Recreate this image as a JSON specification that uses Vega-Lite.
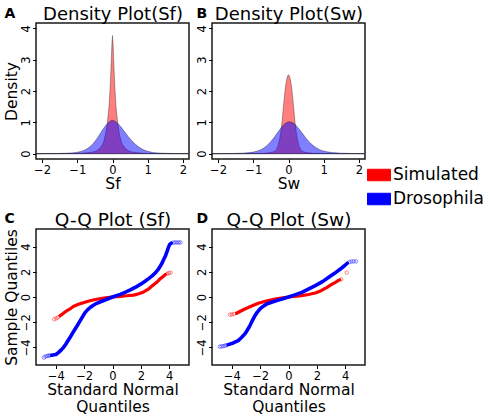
{
  "$schema": "https://vega.github.io/schema/vega-lite/v6.json",
  "autosize": {"type": "pad"},
  "padding": {"left": 3, "top": 4, "right": 0, "bottom": 0},
  "background": "white",
  "datasets": {
    "dens": [
      {"p":"A","s":"Simulated","x":-2.15,"y":0},
      {"p":"A","s":"Simulated","x":-1.5,"y":0.002},
      {"p":"A","s":"Simulated","x":-1.0,"y":0.008},
      {"p":"A","s":"Simulated","x":-0.8,"y":0.02},
      {"p":"A","s":"Simulated","x":-0.6,"y":0.045},
      {"p":"A","s":"Simulated","x":-0.5,"y":0.07},
      {"p":"A","s":"Simulated","x":-0.4,"y":0.13},
      {"p":"A","s":"Simulated","x":-0.3,"y":0.26},
      {"p":"A","s":"Simulated","x":-0.25,"y":0.38},
      {"p":"A","s":"Simulated","x":-0.2,"y":0.6},
      {"p":"A","s":"Simulated","x":-0.15,"y":0.95},
      {"p":"A","s":"Simulated","x":-0.1,"y":1.5},
      {"p":"A","s":"Simulated","x":-0.07,"y":2.05},
      {"p":"A","s":"Simulated","x":-0.05,"y":2.55},
      {"p":"A","s":"Simulated","x":-0.03,"y":3.1},
      {"p":"A","s":"Simulated","x":-0.015,"y":3.55},
      {"p":"A","s":"Simulated","x":0,"y":3.77},
      {"p":"A","s":"Simulated","x":0.015,"y":3.55},
      {"p":"A","s":"Simulated","x":0.03,"y":3.1},
      {"p":"A","s":"Simulated","x":0.05,"y":2.55},
      {"p":"A","s":"Simulated","x":0.07,"y":2.05},
      {"p":"A","s":"Simulated","x":0.1,"y":1.5},
      {"p":"A","s":"Simulated","x":0.15,"y":0.95},
      {"p":"A","s":"Simulated","x":0.2,"y":0.6},
      {"p":"A","s":"Simulated","x":0.25,"y":0.38},
      {"p":"A","s":"Simulated","x":0.3,"y":0.26},
      {"p":"A","s":"Simulated","x":0.4,"y":0.13},
      {"p":"A","s":"Simulated","x":0.5,"y":0.07},
      {"p":"A","s":"Simulated","x":0.6,"y":0.045},
      {"p":"A","s":"Simulated","x":0.8,"y":0.02},
      {"p":"A","s":"Simulated","x":1.0,"y":0.008},
      {"p":"A","s":"Simulated","x":1.5,"y":0.002},
      {"p":"A","s":"Simulated","x":2.15,"y":0},
      {"p":"A","s":"Drosophila","x":-2.15,"y":0.002},
      {"p":"A","s":"Drosophila","x":-1.8,"y":0.004},
      {"p":"A","s":"Drosophila","x":-1.5,"y":0.008},
      {"p":"A","s":"Drosophila","x":-1.3,"y":0.015},
      {"p":"A","s":"Drosophila","x":-1.1,"y":0.03},
      {"p":"A","s":"Drosophila","x":-1.0,"y":0.045},
      {"p":"A","s":"Drosophila","x":-0.9,"y":0.07},
      {"p":"A","s":"Drosophila","x":-0.8,"y":0.11},
      {"p":"A","s":"Drosophila","x":-0.7,"y":0.17},
      {"p":"A","s":"Drosophila","x":-0.6,"y":0.26},
      {"p":"A","s":"Drosophila","x":-0.5,"y":0.39},
      {"p":"A","s":"Drosophila","x":-0.4,"y":0.55},
      {"p":"A","s":"Drosophila","x":-0.3,"y":0.73},
      {"p":"A","s":"Drosophila","x":-0.2,"y":0.89},
      {"p":"A","s":"Drosophila","x":-0.1,"y":1.01},
      {"p":"A","s":"Drosophila","x":-0.03,"y":1.07},
      {"p":"A","s":"Drosophila","x":0.05,"y":1.05},
      {"p":"A","s":"Drosophila","x":0.15,"y":0.97},
      {"p":"A","s":"Drosophila","x":0.25,"y":0.84},
      {"p":"A","s":"Drosophila","x":0.35,"y":0.69},
      {"p":"A","s":"Drosophila","x":0.45,"y":0.54},
      {"p":"A","s":"Drosophila","x":0.55,"y":0.41},
      {"p":"A","s":"Drosophila","x":0.65,"y":0.3},
      {"p":"A","s":"Drosophila","x":0.75,"y":0.21},
      {"p":"A","s":"Drosophila","x":0.85,"y":0.14},
      {"p":"A","s":"Drosophila","x":0.95,"y":0.09},
      {"p":"A","s":"Drosophila","x":1.05,"y":0.06},
      {"p":"A","s":"Drosophila","x":1.2,"y":0.03},
      {"p":"A","s":"Drosophila","x":1.4,"y":0.015},
      {"p":"A","s":"Drosophila","x":1.7,"y":0.006},
      {"p":"A","s":"Drosophila","x":2.15,"y":0.002},
      {"p":"B","s":"Simulated","x":-2.15,"y":0},
      {"p":"B","s":"Simulated","x":-1.5,"y":0.001},
      {"p":"B","s":"Simulated","x":-1.0,"y":0.004},
      {"p":"B","s":"Simulated","x":-0.7,"y":0.012},
      {"p":"B","s":"Simulated","x":-0.5,"y":0.035},
      {"p":"B","s":"Simulated","x":-0.4,"y":0.07},
      {"p":"B","s":"Simulated","x":-0.35,"y":0.12},
      {"p":"B","s":"Simulated","x":-0.3,"y":0.24},
      {"p":"B","s":"Simulated","x":-0.25,"y":0.47},
      {"p":"B","s":"Simulated","x":-0.21,"y":0.75},
      {"p":"B","s":"Simulated","x":-0.18,"y":1.05},
      {"p":"B","s":"Simulated","x":-0.15,"y":1.43},
      {"p":"B","s":"Simulated","x":-0.12,"y":1.78},
      {"p":"B","s":"Simulated","x":-0.09,"y":2.1},
      {"p":"B","s":"Simulated","x":-0.06,"y":2.33},
      {"p":"B","s":"Simulated","x":-0.03,"y":2.47},
      {"p":"B","s":"Simulated","x":0,"y":2.52},
      {"p":"B","s":"Simulated","x":0.03,"y":2.47},
      {"p":"B","s":"Simulated","x":0.06,"y":2.33},
      {"p":"B","s":"Simulated","x":0.09,"y":2.1},
      {"p":"B","s":"Simulated","x":0.12,"y":1.78},
      {"p":"B","s":"Simulated","x":0.15,"y":1.43},
      {"p":"B","s":"Simulated","x":0.18,"y":1.05},
      {"p":"B","s":"Simulated","x":0.21,"y":0.75},
      {"p":"B","s":"Simulated","x":0.25,"y":0.47},
      {"p":"B","s":"Simulated","x":0.3,"y":0.24},
      {"p":"B","s":"Simulated","x":0.35,"y":0.12},
      {"p":"B","s":"Simulated","x":0.4,"y":0.07},
      {"p":"B","s":"Simulated","x":0.5,"y":0.035},
      {"p":"B","s":"Simulated","x":0.7,"y":0.012},
      {"p":"B","s":"Simulated","x":1.0,"y":0.004},
      {"p":"B","s":"Simulated","x":1.5,"y":0.001},
      {"p":"B","s":"Simulated","x":2.15,"y":0},
      {"p":"B","s":"Drosophila","x":-2.15,"y":0.002},
      {"p":"B","s":"Drosophila","x":-1.8,"y":0.004},
      {"p":"B","s":"Drosophila","x":-1.5,"y":0.009},
      {"p":"B","s":"Drosophila","x":-1.3,"y":0.017},
      {"p":"B","s":"Drosophila","x":-1.1,"y":0.035},
      {"p":"B","s":"Drosophila","x":-1.0,"y":0.05},
      {"p":"B","s":"Drosophila","x":-0.9,"y":0.08},
      {"p":"B","s":"Drosophila","x":-0.8,"y":0.12},
      {"p":"B","s":"Drosophila","x":-0.7,"y":0.18},
      {"p":"B","s":"Drosophila","x":-0.6,"y":0.27},
      {"p":"B","s":"Drosophila","x":-0.5,"y":0.39},
      {"p":"B","s":"Drosophila","x":-0.4,"y":0.53},
      {"p":"B","s":"Drosophila","x":-0.3,"y":0.69},
      {"p":"B","s":"Drosophila","x":-0.2,"y":0.84},
      {"p":"B","s":"Drosophila","x":-0.1,"y":0.96},
      {"p":"B","s":"Drosophila","x":0,"y":1.02},
      {"p":"B","s":"Drosophila","x":0.1,"y":1.0},
      {"p":"B","s":"Drosophila","x":0.2,"y":0.92},
      {"p":"B","s":"Drosophila","x":0.3,"y":0.79},
      {"p":"B","s":"Drosophila","x":0.4,"y":0.64},
      {"p":"B","s":"Drosophila","x":0.5,"y":0.49},
      {"p":"B","s":"Drosophila","x":0.6,"y":0.36},
      {"p":"B","s":"Drosophila","x":0.7,"y":0.26},
      {"p":"B","s":"Drosophila","x":0.8,"y":0.18},
      {"p":"B","s":"Drosophila","x":0.9,"y":0.12},
      {"p":"B","s":"Drosophila","x":1.0,"y":0.085},
      {"p":"B","s":"Drosophila","x":1.1,"y":0.058},
      {"p":"B","s":"Drosophila","x":1.25,"y":0.034},
      {"p":"B","s":"Drosophila","x":1.5,"y":0.015},
      {"p":"B","s":"Drosophila","x":1.8,"y":0.006},
      {"p":"B","s":"Drosophila","x":2.15,"y":0.002}
    ],
    "qq": [
      {"p":"C","s":"Simulated","k":"l","x":-3.71,"y":-1.5},
      {"p":"C","s":"Simulated","k":"l","x":-3.35,"y":-1.19},
      {"p":"C","s":"Simulated","k":"l","x":-3.0,"y":-0.95},
      {"p":"C","s":"Simulated","k":"l","x":-2.77,"y":-0.76},
      {"p":"C","s":"Simulated","k":"l","x":-2.4,"y":-0.58},
      {"p":"C","s":"Simulated","k":"l","x":-2.06,"y":-0.45},
      {"p":"C","s":"Simulated","k":"l","x":-1.6,"y":-0.3},
      {"p":"C","s":"Simulated","k":"l","x":-1.11,"y":-0.18},
      {"p":"C","s":"Simulated","k":"l","x":-0.5,"y":-0.07},
      {"p":"C","s":"Simulated","k":"l","x":0,"y":0},
      {"p":"C","s":"Simulated","k":"l","x":0.55,"y":0.05},
      {"p":"C","s":"Simulated","k":"l","x":1.0,"y":0.1},
      {"p":"C","s":"Simulated","k":"l","x":1.49,"y":0.15},
      {"p":"C","s":"Simulated","k":"l","x":1.85,"y":0.26},
      {"p":"C","s":"Simulated","k":"l","x":2.2,"y":0.4},
      {"p":"C","s":"Simulated","k":"l","x":2.5,"y":0.6},
      {"p":"C","s":"Simulated","k":"l","x":2.79,"y":0.87},
      {"p":"C","s":"Simulated","k":"l","x":3.1,"y":1.15},
      {"p":"C","s":"Simulated","k":"l","x":3.38,"y":1.46},
      {"p":"C","s":"Simulated","k":"l","x":3.6,"y":1.65},
      {"p":"C","s":"Simulated","k":"l","x":3.74,"y":1.8},
      {"p":"C","s":"Simulated","k":"p","x":-4.11,"y":-1.77},
      {"p":"C","s":"Simulated","k":"p","x":-3.97,"y":-1.7},
      {"p":"C","s":"Simulated","k":"p","x":-3.85,"y":-1.62},
      {"p":"C","s":"Simulated","k":"p","x":3.86,"y":1.85},
      {"p":"C","s":"Simulated","k":"p","x":3.98,"y":1.9},
      {"p":"C","s":"Simulated","k":"p","x":4.09,"y":1.93},
      {"p":"C","s":"Drosophila","k":"l","x":-4.3,"y":-4.62},
      {"p":"C","s":"Drosophila","k":"l","x":-4.0,"y":-4.57},
      {"p":"C","s":"Drosophila","k":"l","x":-3.8,"y":-4.4},
      {"p":"C","s":"Drosophila","k":"l","x":-3.6,"y":-4.18},
      {"p":"C","s":"Drosophila","k":"l","x":-3.47,"y":-4.02},
      {"p":"C","s":"Drosophila","k":"l","x":-3.3,"y":-3.75},
      {"p":"C","s":"Drosophila","k":"l","x":-3.15,"y":-3.48},
      {"p":"C","s":"Drosophila","k":"l","x":-3.0,"y":-3.22},
      {"p":"C","s":"Drosophila","k":"l","x":-2.85,"y":-2.93},
      {"p":"C","s":"Drosophila","k":"l","x":-2.65,"y":-2.56},
      {"p":"C","s":"Drosophila","k":"l","x":-2.45,"y":-2.2},
      {"p":"C","s":"Drosophila","k":"l","x":-2.29,"y":-1.9},
      {"p":"C","s":"Drosophila","k":"l","x":-2.1,"y":-1.54},
      {"p":"C","s":"Drosophila","k":"l","x":-1.94,"y":-1.24},
      {"p":"C","s":"Drosophila","k":"l","x":-1.75,"y":-1.0},
      {"p":"C","s":"Drosophila","k":"l","x":-1.58,"y":-0.84},
      {"p":"C","s":"Drosophila","k":"l","x":-1.35,"y":-0.66},
      {"p":"C","s":"Drosophila","k":"l","x":-1.11,"y":-0.5},
      {"p":"C","s":"Drosophila","k":"l","x":-0.8,"y":-0.36},
      {"p":"C","s":"Drosophila","k":"l","x":-0.4,"y":-0.18},
      {"p":"C","s":"Drosophila","k":"l","x":0,"y":0},
      {"p":"C","s":"Drosophila","k":"l","x":0.55,"y":0.21},
      {"p":"C","s":"Drosophila","k":"l","x":1.0,"y":0.42},
      {"p":"C","s":"Drosophila","k":"l","x":1.26,"y":0.56},
      {"p":"C","s":"Drosophila","k":"l","x":1.6,"y":0.76},
      {"p":"C","s":"Drosophila","k":"l","x":1.96,"y":1.0},
      {"p":"C","s":"Drosophila","k":"l","x":2.3,"y":1.25},
      {"p":"C","s":"Drosophila","k":"l","x":2.55,"y":1.46},
      {"p":"C","s":"Drosophila","k":"l","x":2.8,"y":1.68},
      {"p":"C","s":"Drosophila","k":"l","x":3.03,"y":1.93},
      {"p":"C","s":"Drosophila","k":"l","x":3.2,"y":2.15},
      {"p":"C","s":"Drosophila","k":"l","x":3.38,"y":2.46},
      {"p":"C","s":"Drosophila","k":"l","x":3.5,"y":2.7},
      {"p":"C","s":"Drosophila","k":"l","x":3.62,"y":2.99},
      {"p":"C","s":"Drosophila","k":"l","x":3.75,"y":3.3},
      {"p":"C","s":"Drosophila","k":"l","x":3.86,"y":3.65},
      {"p":"C","s":"Drosophila","k":"l","x":3.95,"y":3.95},
      {"p":"C","s":"Drosophila","k":"l","x":4.04,"y":4.18},
      {"p":"C","s":"Drosophila","k":"l","x":4.15,"y":4.28},
      {"p":"C","s":"Drosophila","k":"p","x":-4.84,"y":-4.81},
      {"p":"C","s":"Drosophila","k":"p","x":-4.72,"y":-4.72},
      {"p":"C","s":"Drosophila","k":"p","x":-4.6,"y":-4.68},
      {"p":"C","s":"Drosophila","k":"p","x":-4.5,"y":-4.66},
      {"p":"C","s":"Drosophila","k":"p","x":-4.4,"y":-4.64},
      {"p":"C","s":"Drosophila","k":"p","x":4.3,"y":4.32},
      {"p":"C","s":"Drosophila","k":"p","x":4.42,"y":4.33},
      {"p":"C","s":"Drosophila","k":"p","x":4.55,"y":4.33},
      {"p":"C","s":"Drosophila","k":"p","x":4.68,"y":4.33},
      {"p":"C","s":"Drosophila","k":"p","x":4.8,"y":4.33},
      {"p":"D","s":"Simulated","k":"l","x":-3.67,"y":-1.29},
      {"p":"D","s":"Simulated","k":"l","x":-3.4,"y":-1.13},
      {"p":"D","s":"Simulated","k":"l","x":-3.08,"y":-0.95},
      {"p":"D","s":"Simulated","k":"l","x":-2.6,"y":-0.72},
      {"p":"D","s":"Simulated","k":"l","x":-2.13,"y":-0.5},
      {"p":"D","s":"Simulated","k":"l","x":-1.5,"y":-0.3},
      {"p":"D","s":"Simulated","k":"l","x":-0.95,"y":-0.16},
      {"p":"D","s":"Simulated","k":"l","x":-0.4,"y":-0.06},
      {"p":"D","s":"Simulated","k":"l","x":0,"y":0},
      {"p":"D","s":"Simulated","k":"l","x":0.94,"y":0.11},
      {"p":"D","s":"Simulated","k":"l","x":1.4,"y":0.2},
      {"p":"D","s":"Simulated","k":"l","x":1.89,"y":0.32},
      {"p":"D","s":"Simulated","k":"l","x":2.3,"y":0.5},
      {"p":"D","s":"Simulated","k":"l","x":2.72,"y":0.77},
      {"p":"D","s":"Simulated","k":"l","x":3.05,"y":1.0},
      {"p":"D","s":"Simulated","k":"l","x":3.31,"y":1.17},
      {"p":"D","s":"Simulated","k":"l","x":3.5,"y":1.3},
      {"p":"D","s":"Simulated","k":"l","x":3.62,"y":1.36},
      {"p":"D","s":"Simulated","k":"p","x":-4.14,"y":-1.4},
      {"p":"D","s":"Simulated","k":"p","x":-4.0,"y":-1.38},
      {"p":"D","s":"Simulated","k":"p","x":-3.85,"y":-1.34},
      {"p":"D","s":"Simulated","k":"p","x":3.72,"y":1.4},
      {"p":"D","s":"Simulated","k":"p","x":4.11,"y":1.94},
      {"p":"D","s":"Drosophila","k":"l","x":-4.26,"y":-3.78},
      {"p":"D","s":"Drosophila","k":"l","x":-3.9,"y":-3.65},
      {"p":"D","s":"Drosophila","k":"l","x":-3.55,"y":-3.46},
      {"p":"D","s":"Drosophila","k":"l","x":-3.3,"y":-3.2},
      {"p":"D","s":"Drosophila","k":"l","x":-3.08,"y":-2.93},
      {"p":"D","s":"Drosophila","k":"l","x":-2.9,"y":-2.62},
      {"p":"D","s":"Drosophila","k":"l","x":-2.72,"y":-2.27},
      {"p":"D","s":"Drosophila","k":"l","x":-2.55,"y":-1.87},
      {"p":"D","s":"Drosophila","k":"l","x":-2.37,"y":-1.48},
      {"p":"D","s":"Drosophila","k":"l","x":-2.2,"y":-1.2},
      {"p":"D","s":"Drosophila","k":"l","x":-2.01,"y":-0.95},
      {"p":"D","s":"Drosophila","k":"l","x":-1.8,"y":-0.75},
      {"p":"D","s":"Drosophila","k":"l","x":-1.54,"y":-0.55},
      {"p":"D","s":"Drosophila","k":"l","x":-1.2,"y":-0.42},
      {"p":"D","s":"Drosophila","k":"l","x":-0.83,"y":-0.29},
      {"p":"D","s":"Drosophila","k":"l","x":-0.4,"y":-0.14},
      {"p":"D","s":"Drosophila","k":"l","x":0,"y":0},
      {"p":"D","s":"Drosophila","k":"l","x":0.5,"y":0.19},
      {"p":"D","s":"Drosophila","k":"l","x":0.94,"y":0.37},
      {"p":"D","s":"Drosophila","k":"l","x":1.4,"y":0.62},
      {"p":"D","s":"Drosophila","k":"l","x":1.89,"y":0.9},
      {"p":"D","s":"Drosophila","k":"l","x":2.4,"y":1.22},
      {"p":"D","s":"Drosophila","k":"l","x":2.84,"y":1.56},
      {"p":"D","s":"Drosophila","k":"l","x":3.25,"y":1.88},
      {"p":"D","s":"Drosophila","k":"l","x":3.66,"y":2.22},
      {"p":"D","s":"Drosophila","k":"l","x":3.95,"y":2.48},
      {"p":"D","s":"Drosophila","k":"l","x":4.15,"y":2.68},
      {"p":"D","s":"Drosophila","k":"p","x":-4.85,"y":-3.94},
      {"p":"D","s":"Drosophila","k":"p","x":-4.72,"y":-3.92},
      {"p":"D","s":"Drosophila","k":"p","x":-4.6,"y":-3.9},
      {"p":"D","s":"Drosophila","k":"p","x":-4.48,"y":-3.86},
      {"p":"D","s":"Drosophila","k":"p","x":-4.36,"y":-3.82},
      {"p":"D","s":"Drosophila","k":"p","x":4.3,"y":2.78},
      {"p":"D","s":"Drosophila","k":"p","x":4.45,"y":2.82},
      {"p":"D","s":"Drosophila","k":"p","x":4.6,"y":2.83},
      {"p":"D","s":"Drosophila","k":"p","x":4.77,"y":2.83}
    ]
  },
  "columns": 2,
  "bounds": "flush",
  "spacing": {"row": 70, "column": 23},
  "concat": [
    {
      "width": 153, "height": 136,
      "title": {"text": "A"},
      "data": {"name": "dens"},
      "transform": [{"filter": "datum.p === 'A'"}],
      "encoding": {
        "y": {"field": "y", "type": "quantitative", "scale": {"domain": [-0.17, 4.17], "nice": false, "zero": false}, "axis": {"values": [0, 1, 2, 3, 4], "title": "Density"}},
        "color": {"field": "s", "type": "nominal", "scale": {"domain": ["Simulated", "Drosophila"], "range": ["#FF0000", "#0000FF"]},
          "legend": {"orient": "none", "legendX": 331, "legendY": 140, "title": null, "symbolType": "M-1,-0.5H1V0.5H-1Z", "symbolSize": 529, "symbolStrokeColor": "#222222", "symbolStrokeWidth": 1, "symbolOpacity": 1, "labelFontSize": 17, "labelFont": "DejaVu Sans", "labelColor": "#000000", "labelOffset": 2, "rowPadding": 4, "padding": 0,
            "encode": {"symbols": {"update": {"fillOpacity": {"value": 1}, "strokeOpacity": {"value": 1}}}}}}
      },
      "layer": [
        {"transform": [{"filter": "datum.s === 'Simulated'"}],
         "mark": {"type": "area", "fillOpacity": 0.5, "stroke": "#000000", "strokeWidth": 0.6, "strokeOpacity": 0.55},
         "encoding": {"x": {"field": "x", "type": "quantitative", "scale": {"domain": [-2.17, 2.17], "nice": false, "zero": false}, "axis": {"values": [-2, -1, 0, 1, 2], "title": "Sf"}}}},
        {"transform": [{"filter": "datum.s === 'Drosophila'"}],
         "mark": {"type": "area", "fillOpacity": 0.5, "stroke": "#000000", "strokeWidth": 0.6, "strokeOpacity": 0.55},
         "encoding": {"x": {"field": "x", "type": "quantitative", "scale": {"domain": [-2.17, 2.17], "nice": false, "zero": false}, "axis": {"orient": "top", "title": "Density Plot(Sf)", "ticks": false, "labels": false, "domain": false, "titleFontSize": 18, "titlePadding": 0}}}}
      ],
      "resolve": {"axis": {"x": "independent"}}
    },
    {
      "width": 153, "height": 136,
      "title": {"text": "B"},
      "data": {"name": "dens"},
      "transform": [{"filter": "datum.p === 'B'"}],
      "encoding": {
        "y": {"field": "y", "type": "quantitative", "scale": {"domain": [-0.17, 4.17], "nice": false, "zero": false}, "axis": {"values": [0, 1, 2, 3, 4], "title": null}},
        "color": {"field": "s", "type": "nominal", "scale": {"domain": ["Simulated", "Drosophila"], "range": ["#FF0000", "#0000FF"]},
          "legend": {"orient": "none", "legendX": 331, "legendY": 140, "title": null, "symbolType": "M-1,-0.5H1V0.5H-1Z", "symbolSize": 529, "symbolStrokeColor": "#222222", "symbolStrokeWidth": 1, "symbolOpacity": 1, "labelFontSize": 17, "labelFont": "DejaVu Sans", "labelColor": "#000000", "labelOffset": 2, "rowPadding": 4, "padding": 0,
            "encode": {"symbols": {"update": {"fillOpacity": {"value": 1}, "strokeOpacity": {"value": 1}}}}}}
      },
      "layer": [
        {"transform": [{"filter": "datum.s === 'Simulated'"}],
         "mark": {"type": "area", "fillOpacity": 0.5, "stroke": "#000000", "strokeWidth": 0.6, "strokeOpacity": 0.55},
         "encoding": {"x": {"field": "x", "type": "quantitative", "scale": {"domain": [-2.17, 2.17], "nice": false, "zero": false}, "axis": {"values": [-2, -1, 0, 1, 2], "title": "Sw"}}}},
        {"transform": [{"filter": "datum.s === 'Drosophila'"}],
         "mark": {"type": "area", "fillOpacity": 0.5, "stroke": "#000000", "strokeWidth": 0.6, "strokeOpacity": 0.55},
         "encoding": {"x": {"field": "x", "type": "quantitative", "scale": {"domain": [-2.17, 2.17], "nice": false, "zero": false}, "axis": {"orient": "top", "title": "Density Plot(Sw)", "ticks": false, "labels": false, "domain": false, "titleFontSize": 18, "titlePadding": 0}}}}
      ],
      "resolve": {"axis": {"x": "independent"}}
    },
    {
      "width": 153, "height": 136,
      "title": {"text": "C"},
      "data": {"name": "qq"},
      "transform": [{"filter": "datum.p === 'C'"}],
      "encoding": {
        "y": {"field": "y", "type": "quantitative", "scale": {"domain": [-5.4, 5.4], "nice": false, "zero": false}, "axis": {"values": [-4, -2, 0, 2, 4], "title": "Sample Quantiles"}},
        "stroke": {"field": "s", "type": "nominal", "scale": {"domain": ["Simulated", "Drosophila"], "range": ["#FF0000", "#0000FF"]}, "legend": null}
      },
      "layer": [
        {"transform": [{"filter": "datum.s === 'Simulated' && datum.k === 'l'"}],
         "mark": {"type": "line", "strokeWidth": 3.2, "strokeCap": "round", "strokeJoin": "round"},
         "encoding": {"x": {"field": "x", "type": "quantitative", "scale": {"domain": [-5.4, 5.4], "nice": false, "zero": false}, "axis": {"values": [-4, -2, 0, 2, 4], "title": ["Standard Normal", "Quantiles"]}}}},
        {"transform": [{"filter": "datum.s === 'Drosophila' && datum.k === 'l'"}],
         "mark": {"type": "line", "strokeWidth": 3.6, "strokeCap": "round", "strokeJoin": "round"},
         "encoding": {"x": {"field": "x", "type": "quantitative", "scale": {"domain": [-5.4, 5.4], "nice": false, "zero": false}, "axis": {"orient": "top", "title": "Q-Q Plot (Sf)", "ticks": false, "labels": false, "domain": false, "titleFontSize": 18.5, "titlePadding": 0}}}},
        {"transform": [{"filter": "datum.k === 'p'"}],
         "mark": {"type": "point", "shape": "circle", "filled": false, "size": 12, "strokeWidth": 0.8, "opacity": 0.6},
         "encoding": {"x": {"field": "x", "type": "quantitative", "scale": {"domain": [-5.4, 5.4], "nice": false, "zero": false}, "axis": null}}}
      ],
      "resolve": {"axis": {"x": "independent"}}
    },
    {
      "width": 153, "height": 136,
      "title": {"text": "D"},
      "data": {"name": "qq"},
      "transform": [{"filter": "datum.p === 'D'"}],
      "encoding": {
        "y": {"field": "y", "type": "quantitative", "scale": {"domain": [-5.4, 5.4], "nice": false, "zero": false}, "axis": {"values": [-4, -2, 0, 2, 4], "title": null}},
        "stroke": {"field": "s", "type": "nominal", "scale": {"domain": ["Simulated", "Drosophila"], "range": ["#FF0000", "#0000FF"]}, "legend": null}
      },
      "layer": [
        {"transform": [{"filter": "datum.s === 'Simulated' && datum.k === 'l'"}],
         "mark": {"type": "line", "strokeWidth": 3.2, "strokeCap": "round", "strokeJoin": "round"},
         "encoding": {"x": {"field": "x", "type": "quantitative", "scale": {"domain": [-5.4, 5.4], "nice": false, "zero": false}, "axis": {"values": [-4, -2, 0, 2, 4], "title": ["Standard Normal", "Quantiles"]}}}},
        {"transform": [{"filter": "datum.s === 'Drosophila' && datum.k === 'l'"}],
         "mark": {"type": "line", "strokeWidth": 3.6, "strokeCap": "round", "strokeJoin": "round"},
         "encoding": {"x": {"field": "x", "type": "quantitative", "scale": {"domain": [-5.4, 5.4], "nice": false, "zero": false}, "axis": {"orient": "top", "title": "Q-Q Plot (Sw)", "ticks": false, "labels": false, "domain": false, "titleFontSize": 18.5, "titlePadding": 0}}}},
        {"transform": [{"filter": "datum.k === 'p'"}],
         "mark": {"type": "point", "shape": "circle", "filled": false, "size": 12, "strokeWidth": 0.8, "opacity": 0.6},
         "encoding": {"x": {"field": "x", "type": "quantitative", "scale": {"domain": [-5.4, 5.4], "nice": false, "zero": false}, "axis": null}}}
      ],
      "resolve": {"axis": {"x": "independent"}}
    }
  ],
  "config": {
    "font": "DejaVu Sans",
    "view": {"stroke": "#1a1a1a", "strokeWidth": 1.5},
    "title": {"anchor": "start", "frame": "bounds", "fontSize": 14, "fontWeight": "bold", "font": "DejaVu Sans", "color": "#000000", "offset": -16},
    "axis": {"grid": false, "domain": false, "tickColor": "#000000", "tickSize": 3.5, "tickWidth": 1, "labelFont": "DejaVu Sans", "labelFontSize": 11.5, "labelColor": "#000000", "labelPadding": 1.5, "titleFont": "DejaVu Sans", "titleFontSize": 15.5, "titleFontWeight": "normal", "titleColor": "#000000", "titlePadding": 1, "titleLineHeight": 17},
    "axisY": {"labelAngle": -90, "labelAlign": "center", "labelBaseline": "bottom", "labelPadding": 1, "titlePadding": 1}
  }
}
